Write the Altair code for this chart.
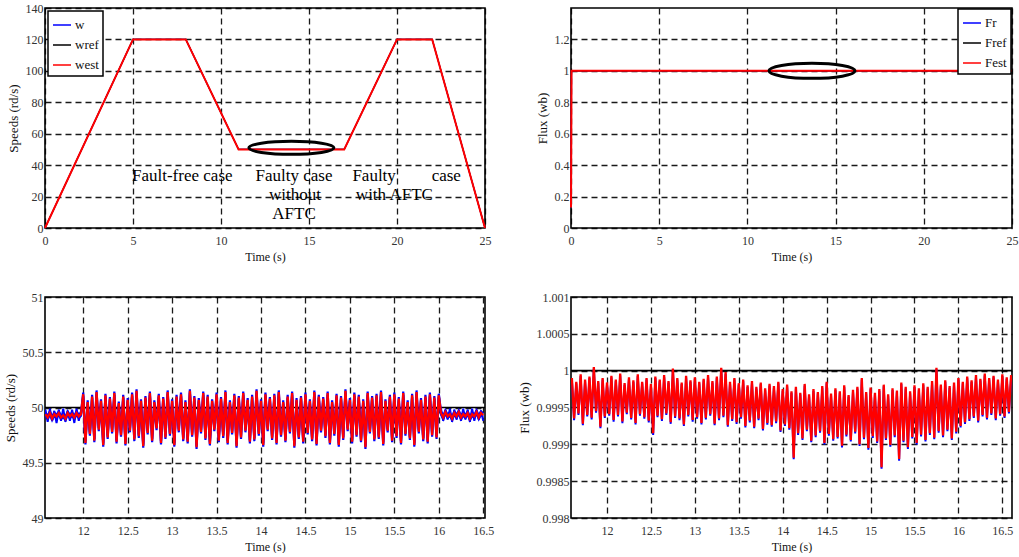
import altair as alt
import pandas as pd

# ---------------- values ----------------
# Top-left: speed profile (rd/s) vs time (s); w, wref and west coincide at this scale
profile_t = [0, 5, 8, 11, 17, 20, 22, 25]
speed_w = [0, 120, 120, 50, 50, 120, 120, 0]
speed_ref = [0, 120, 120, 50, 50, 120, 120, 0]
speed_est = [0, 120, 120, 50, 50, 120, 120, 0]

ann_text = ["Fault-free case", "Faulty case", "without", "AFTC", "Faulty", "with AFTC", "case"]
ann_t = [7.8, 14.15, 14.2, 14.15, 18.7, 19.85, 22.8]
ann_v = [33.4, 33.4, 20.8, 8.8, 33.4, 20.8, 33.4]
tl_ellipse_t = [14.0]
tl_ellipse_v = [51.0]

# Top-right: flux (wb) vs time (s)
flux_t = [0, 0.03, 25]
flux_r = [0.13, 1.0, 1.0]
flux_est = [0.13, 1.0, 1.0]
flux_ref_t = [0, 25]
flux_ref = [1.0, 1.0]
tr_ellipse_t = [13.66]
tr_ellipse_v = [1.0]

# Bottom-left: zoom on speed, samples every 0.025 s
bl_start, bl_step = 11.575, 0.025
west_pre = [49.94, 49.91, 49.95, 49.90, 49.94, 49.92, 49.95, 49.91, 49.93, 49.90,
            49.95, 49.92, 49.94, 49.91, 49.95, 49.92, 49.94]
w_pre = [49.98, 49.87, 49.99, 49.88, 49.97, 49.86, 49.98, 49.88, 49.99, 49.87,
         49.97, 49.88, 49.98, 49.86, 49.99, 49.88, 49.97]
west_peaks = [50.12, 50.05, 50.10, 50.14, 50.06, 50.11, 50.08, 50.13, 50.04, 50.10,
              50.07, 50.12, 50.15, 50.06, 50.09, 50.13, 50.05, 50.11, 50.08, 50.14,
              50.06, 50.10, 50.12, 50.05, 50.15, 50.09, 50.07, 50.13, 50.10, 50.06,
              50.12, 50.08, 50.14, 50.05, 50.11, 50.09, 50.13, 50.07, 50.10, 50.15,
              50.06, 50.12, 50.08, 50.11, 50.14, 50.05, 50.10, 50.13, 50.07, 50.09,
              50.12, 50.06, 50.14, 50.10, 50.08, 50.13, 50.05, 50.11, 50.09, 50.15,
              50.07, 50.12, 50.10, 50.06, 50.13, 50.09, 50.11, 50.14, 50.06, 50.10,
              50.12, 50.08, 50.13, 50.05, 50.11, 50.14, 50.07, 50.10, 50.12, 50.09,
              50.11]
west_troughs = [49.68, 49.76, 49.70, 49.80, 49.66, 49.73, 49.78, 49.69, 49.75, 49.67,
                49.79, 49.71, 49.74, 49.65, 49.77, 49.70, 49.81, 49.68, 49.73, 49.76,
                49.66, 49.79, 49.71, 49.69, 49.75, 49.64, 49.78, 49.72, 49.67, 49.80,
                49.70, 49.74, 49.68, 49.77, 49.65, 49.73, 49.79, 49.69, 49.71, 49.76,
                49.66, 49.80, 49.72, 49.68, 49.75, 49.70, 49.78, 49.65, 49.73, 49.69,
                49.77, 49.71, 49.67, 49.79, 49.74, 49.68, 49.76, 49.66, 49.72, 49.80,
                49.69, 49.75, 49.70, 49.64, 49.78, 49.71, 49.73, 49.67, 49.79, 49.70,
                49.74, 49.68, 49.76, 49.72, 49.66, 49.78, 49.71, 49.69, 49.75, 49.73]
west_post = [49.95, 49.91, 49.96, 49.92, 49.94, 49.90, 49.95, 49.92, 49.96, 49.91,
             49.94, 49.92, 49.95, 49.90, 49.94, 49.92, 49.96, 49.91, 49.95, 49.93]
w_post = [49.99, 49.88, 49.98, 49.89, 49.99, 49.87, 49.98, 49.89, 49.97, 49.88,
          49.99, 49.89, 49.98, 49.87, 49.99, 49.88, 49.98, 49.89, 49.97, 49.88]
wref_level = [50.0, 50.0]
bl_ref_t = [11.57, 16.52]

# Bottom-right: zoom on flux, samples every 0.025 s
br_start, br_step = 11.6, 0.025
fest_peaks = [0.99990, 0.99985, 0.99995, 0.99988, 0.99992, 1.00005, 0.99986, 0.99990, 0.99984, 0.99993,
              0.99988, 0.99996, 0.99983, 0.99991, 0.99987, 0.99995, 0.99985, 0.99990, 0.99982, 0.99992,
              0.99988, 0.99994, 0.99986, 1.00003, 0.99990, 0.99984, 0.99993, 0.99987, 0.99991, 0.99985,
              0.99989, 0.99994, 0.99986, 0.99992, 1.00004, 0.99998, 0.99985, 0.99990, 0.99983, 0.99988,
              0.99980, 0.99986, 0.99978, 0.99984, 0.99976, 0.99982, 0.99979, 0.99985, 0.99975, 0.99981,
              0.99972, 0.99978, 0.99970, 0.99982, 0.99968, 0.99975, 0.99971, 0.99979, 0.99985, 0.99969,
              0.99976, 0.99972, 0.99980, 0.99967, 0.99974, 0.99978, 0.99990, 0.99971, 0.99977, 0.99970,
              0.99975, 0.99981, 0.99968, 0.99976, 0.99973, 0.99984, 0.99978, 0.99972, 0.99980, 0.99976,
              0.99983, 0.99978, 0.99986, 1.00004, 0.99981, 0.99987, 0.99979, 0.99984, 0.99990, 0.99985,
              0.99992, 0.99987, 0.99994, 0.99989, 0.99996, 0.99990, 0.99993, 0.99988, 0.99995, 0.99991,
              0.99994]
fest_troughs = [0.99935, 0.99942, 0.99928, 0.99940, 0.99936, 0.99945, 0.99924, 0.99938, 0.99941, 0.99933,
                0.99940, 0.99931, 0.99943, 0.99936, 0.99929, 0.99941, 0.99937, 0.99932, 0.99915, 0.99939,
                0.99934, 0.99942, 0.99930, 0.99938, 0.99935, 0.99927, 0.99940, 0.99933, 0.99937, 0.99929,
                0.99936, 0.99941, 0.99928, 0.99935, 0.99939, 0.99926, 0.99934, 0.99930, 0.99937, 0.99925,
                0.99932, 0.99924, 0.99935, 0.99921, 0.99929, 0.99926, 0.99931, 0.99919, 0.99927, 0.99922,
                0.99882, 0.99915, 0.99908, 0.99920, 0.99905, 0.99912, 0.99918, 0.99902, 0.99914, 0.99907,
                0.99910, 0.99898, 0.99913, 0.99906, 0.99917, 0.99900, 0.99909, 0.99895, 0.99911, 0.99904,
                0.99869, 0.99908, 0.99899, 0.99912, 0.99880, 0.99905, 0.99896, 0.99910, 0.99902, 0.99913,
                0.99906, 0.99915, 0.99909, 0.99918, 0.99912, 0.99920, 0.99908, 0.99917, 0.99925, 0.99930,
                0.99934, 0.99938, 0.99932, 0.99940, 0.99936, 0.99942, 0.99935, 0.99941, 0.99938, 0.99944]
br_ref_t = [11.59, 16.61]
fref_level = [1.0, 1.0]

# tick labels
tl_xticks = [0, 5, 10, 15, 20, 25]
tl_yticks = [0, 20, 40, 60, 80, 100, 120, 140]
tr_yticks = [0, 0.2, 0.4, 0.6, 0.8, 1.0, 1.2]
bl_xticks = [12, 12.5, 13, 13.5, 14, 14.5, 15, 15.5, 16, 16.5]
bl_yticks = [49, 49.5, 50, 50.5, 51]
br_yticks = [0.998, 0.9985, 0.999, 0.9995, 1.0, 1.0005, 1.001]


# ---------------- helpers ----------------
def interleave(peaks, troughs):
    out = []
    for i in range(len(peaks)):
        out.append(peaks[i])
        if i < len(troughs):
            out.append(troughs[i])
    return out


def sampled(start, step, values, offset=0):
    return pd.DataFrame({"t": [round(start + step * (i + offset), 4) for i in range(len(values))],
                         "v": values})


FONT = "Liberation Serif"
BLUE, RED = "#0000ff", "#ff0000"

W, H = 440, 220


def ellipse_path(ratio):
    k = 0.5523
    r = ratio
    return (f"M -1 0 C -1 {-k*r:.4f} {-k:.4f} {-r:.4f} 0 {-r:.4f} "
            f"C {k:.4f} {-r:.4f} 1 {-k*r:.4f} 1 0 "
            f"C 1 {k*r:.4f} {k:.4f} {r:.4f} 0 {r:.4f} "
            f"C {-k:.4f} {r:.4f} -1 {k*r:.4f} -1 0 Z")


# line widths per series (red estimate drawn last and slightly wider so it covers the others)
SERIES_WIDTH = {"w": 1.2, "wref": 1.2, "west": 2.0, "Fr": 1.2, "Fref": 1.2, "Fest": 2.0}

# ---------------- top-left ----------------
tl_x = alt.X("t:Q", scale=alt.Scale(domain=[0, 25], nice=False, zero=False),
             axis=alt.Axis(values=tl_xticks, title="Time (s)", format="d"))
tl_y = alt.Y("v:Q", scale=alt.Scale(domain=[0, 140], nice=False),
             axis=alt.Axis(values=tl_yticks, title="Speeds (rd/s)", format="d"))
tl_scale = alt.Scale(domain=["w", "wref", "west"], range=[BLUE, "#000000", RED])
tl_legend = alt.Legend(title=None, orient="none", legendX=3, legendY=3)


def tl_line(vals, name):
    df = pd.DataFrame({"t": profile_t, "v": vals, "s": name})
    return alt.Chart(df).mark_line(strokeWidth=SERIES_WIDTH[name]).encode(
        x=tl_x, y=tl_y, color=alt.Color("s:N", scale=tl_scale, legend=tl_legend))


ann_df = pd.DataFrame({"t": ann_t, "v": ann_v, "label": ann_text})
tl_text = alt.Chart(ann_df).mark_text(font=FONT, fontSize=17, color="black").encode(
    x=tl_x, y=tl_y, text="label:N")
tl_ell = alt.Chart(pd.DataFrame({"t": tl_ellipse_t, "v": tl_ellipse_v})).mark_point(
    shape=ellipse_path(13 / 85), size=85 * 85, filled=False, color="black", strokeWidth=3,
    opacity=1).encode(x=tl_x, y=tl_y)

top_left = alt.layer(tl_line(speed_w, "w"), tl_line(speed_ref, "wref"), tl_line(speed_est, "west"),
                     tl_text, tl_ell).properties(width=W, height=H)

# ---------------- top-right ----------------
tr_x = alt.X("t:Q", scale=alt.Scale(domain=[0, 25], nice=False, zero=False),
             axis=alt.Axis(values=tl_xticks, title="Time (s)", format="d"))
tr_y = alt.Y("v:Q", scale=alt.Scale(domain=[0, 1.4], nice=False),
             axis=alt.Axis(values=tr_yticks, title="Flux (wb)", format=".1~f"))
tr_scale = alt.Scale(domain=["Fr", "Fref", "Fest"], range=[BLUE, "#000000", RED])
tr_legend = alt.Legend(title=None, orient="top-right", offset=1)


def tr_line(tt, vals, name):
    df = pd.DataFrame({"t": tt, "v": vals, "s": name})
    return alt.Chart(df).mark_line(strokeWidth=SERIES_WIDTH[name]).encode(
        x=tr_x, y=tr_y, color=alt.Color("s:N", scale=tr_scale, legend=tr_legend))


tr_ell = alt.Chart(pd.DataFrame({"t": tr_ellipse_t, "v": tr_ellipse_v})).mark_point(
    shape=ellipse_path(15 / 86), size=86 * 86, filled=False, color="black", strokeWidth=3,
    opacity=1).encode(x=tr_x, y=tr_y)

top_right = alt.layer(tr_line(flux_t, flux_r, "Fr"), tr_line(flux_ref_t, flux_ref, "Fref"),
                      tr_line(flux_t, flux_est, "Fest"), tr_ell).properties(width=W + 1, height=H)

# ---------------- bottom-left ----------------
bl_x = alt.X("t:Q", scale=alt.Scale(domain=[11.57, 16.52], nice=False, zero=False),
             axis=alt.Axis(values=bl_xticks, title="Time (s)", format=".1~f"))
bl_y = alt.Y("v:Q", scale=alt.Scale(domain=[49, 51], nice=False, zero=False),
             axis=alt.Axis(values=bl_yticks, title="Speeds (rd/s)", format=".1~f"))

west_all = west_pre + interleave(west_peaks, west_troughs) + west_post
bl_est_df = sampled(bl_start, bl_step, west_all)
bl_wpre_df = sampled(bl_start, bl_step, w_pre)
bl_wpost_df = sampled(bl_start, bl_step, w_post, offset=len(west_all) - len(west_post))
bl_ref_df = pd.DataFrame({"t": bl_ref_t, "v": wref_level})

bl_ref = alt.Chart(bl_ref_df).mark_line(color="black", strokeWidth=1.6, clip=True).encode(x=bl_x, y=bl_y)
bl_w_up = alt.Chart(bl_est_df).mark_line(color=BLUE, strokeWidth=2.2, yOffset=-1.6, clip=True).encode(x=bl_x, y=bl_y)
bl_w_dn = alt.Chart(bl_est_df).mark_line(color=BLUE, strokeWidth=2.2, yOffset=1.6, clip=True).encode(x=bl_x, y=bl_y)
bl_wpre = alt.Chart(bl_wpre_df).mark_line(color=BLUE, strokeWidth=2.0, clip=True).encode(x=bl_x, y=bl_y)
bl_wpost = alt.Chart(bl_wpost_df).mark_line(color=BLUE, strokeWidth=2.0, clip=True).encode(x=bl_x, y=bl_y)
bl_est = alt.Chart(bl_est_df).mark_line(color=RED, strokeWidth=2.3, clip=True).encode(x=bl_x, y=bl_y)

bottom_left = alt.layer(bl_ref, bl_w_up, bl_w_dn, bl_wpre, bl_wpost, bl_est).properties(width=W, height=H + 1)

# ---------------- bottom-right ----------------
br_x = alt.X("t:Q", scale=alt.Scale(domain=[11.59, 16.61], nice=False, zero=False),
             axis=alt.Axis(values=bl_xticks, title="Time (s)", format=".1~f"))
br_y = alt.Y("v:Q", scale=alt.Scale(domain=[0.998, 1.001], nice=False, zero=False),
             axis=alt.Axis(values=br_yticks, title="Flux (wb)", format=".4~f"))

fest_all = interleave(fest_peaks, fest_troughs)
br_est_df = sampled(br_start, br_step, fest_all)
br_ref_df = pd.DataFrame({"t": br_ref_t, "v": fref_level})

br_ref = alt.Chart(br_ref_df).mark_line(color="black", strokeWidth=1.6, clip=True).encode(x=br_x, y=br_y)
br_w = alt.Chart(br_est_df).mark_line(color=BLUE, strokeWidth=2.0, yOffset=1.6, clip=True).encode(x=br_x, y=br_y)
br_est = alt.Chart(br_est_df).mark_line(color=RED, strokeWidth=2.3, clip=True).encode(x=br_x, y=br_y)

bottom_right = alt.layer(br_ref, br_w, br_est).properties(width=W + 1, height=H + 1)

# ---------------- assemble ----------------
chart = alt.concat(top_left, top_right, bottom_left, bottom_right, columns=2,
                   spacing={"row": 69, "column": 86}, bounds="flush").resolve_scale(
    color="independent", x="independent", y="independent").resolve_legend(color="independent").properties(
    padding={"left": 3, "top": 1, "right": 0, "bottom": 0},
    background="white",
).configure_view(
    stroke="black", strokeWidth=1.6
).configure_axis(
    domain=False, ticks=False, grid=True, gridColor="#000000", gridDash=[6, 4],
    gridWidth=1.3, gridOpacity=0.9, labelFont=FONT, labelFontSize=12, labelColor="#333333",
    titleFont=FONT, titleFontSize=12, titleFontWeight="normal", titleColor="#111111",
    labelFlush=False, labelOverlap=False, zindex=1,
).configure_axisX(
    labelPadding=7, titlePadding=5
).configure_axisY(
    labelPadding=2, titlePadding=5, titleFontSize=13
).configure_legend(
    strokeColor="black", fillColor="white", padding=4, symbolType="stroke",
    symbolSize=324, symbolStrokeWidth=1.5, labelFont=FONT, labelFontSize=13,
    labelColor="#111111", rowPadding=3, labelOffset=3, strokeWidth=1.5, cornerRadius=0,
)

chart.save("out.html", embed_options={"renderer": "svg", "actions": False})
